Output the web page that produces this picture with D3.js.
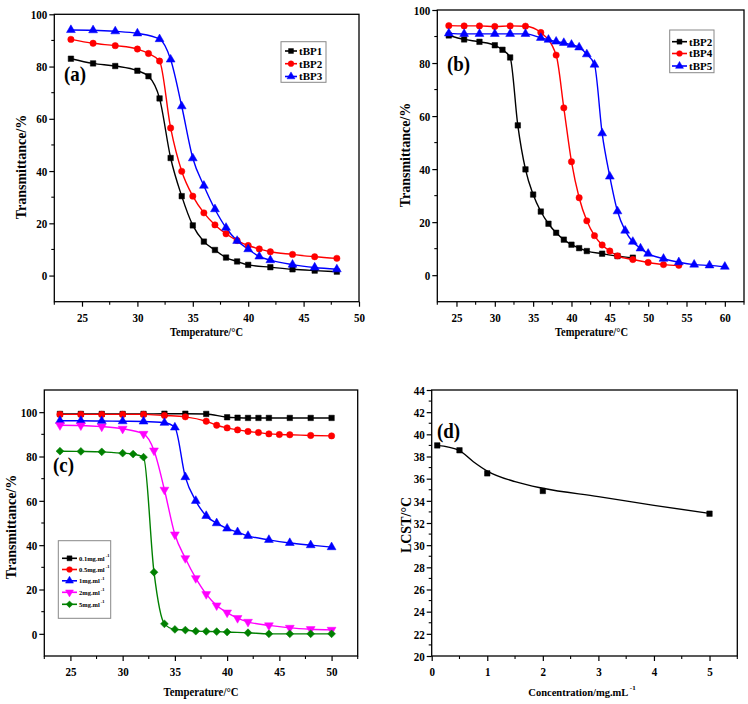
<!DOCTYPE html>
<html><head><meta charset="utf-8">
<script src="https://cdn.jsdelivr.net/npm/d3@7"></script>
<style>
body{margin:0;background:#fff}
text{font-family:"Liberation Serif","Times New Roman",serif;font-weight:bold;fill:#000}
</style>
</head><body><svg id="chart" width="748" height="704"></svg>
<script>
// ---------- data ----------
// panel (a)
const tempA1 = [24,26,28,30,31,32,33,34,35,36,37,38,39,40,42,44,46,48];
const tBP1   = [83,81.2,80.2,78.4,76.3,67.8,45,30.4,19.2,13,9.8,6.9,5.4,4.1,3.2,2.4,1.9,1.5];
const tempA2 = [24,26,28,30,31,32,33,34,35,36,37,38,39,40,41,42,44,46,48];
const tBP2   = [90.4,88.9,88,86.7,85,82.1,56.5,39.9,30.4,24,19.4,16,13.4,11.5,10.2,9.1,8.1,7.2,6.6];
const tempA3 = [24,26,28,30,32,33,34,35,36,37,38,39,40,41,42,44,46,48];
const tBP3   = [94,93.9,93.5,92.7,90.5,82.7,64.8,44.9,34.4,25.4,18.3,13.3,10.1,7.3,5.9,4.2,3.1,2.4];
// panel (b)
const tempB4 = [24,26,28,30,32,34,36,38,39,40,41,42,43,44,45,46,48,50,52,54];
const tBP4   = [94.1,94,94,93.8,94,93.9,91.5,83,63.1,42.8,29.2,20.5,14.9,11.4,9.1,7.3,5.9,4.8,4,3.7];
const tempB5 = [24,26,28,30,32,34,36,37,38,39,40,41,42,43,44,45,46,47,48,49,50,52,54,56,58,60];
const tBP5   = [91.2,91,91,91,91,91,89.5,88.8,88.1,87.6,86.9,85.9,83.3,79.4,53.5,37.2,24.1,16.8,12.6,10.1,8.1,6.2,4.9,4,3.7,3.2];
// panel (c)
const tempC01 = [24,26,28,30,32,34,36,38,40,41,42,43,44,46,48,50];
const c01     = [99.2,99.2,99.2,99.2,99.2,99.3,99.3,99.2,97.7,97.5,97.4,97.4,97.4,97.4,97.4,97.4];
const tempC05 = [24,26,28,30,32,34,36,38,39,40,41,42,43,44,45,46,48,50];
const c05     = [99,99,99,99,99,98.5,97.9,95.9,94.1,92.9,92,91.3,90.8,90.2,89.9,89.8,89.5,89.3];
const tempC1  = [24,26,28,30,32,34,35,36,37,38,39,40,41,42,44,46,48,50];
const c1      = [96.1,96.1,96,95.9,95.8,95.2,93.1,70.7,60,53.2,49.9,47.5,45.9,44.2,42.4,41,40,39.1];
const tempC2  = [24,26,28,30,32,33,34,35,36,37,38,39,40,41,42,44,46,48,50];
const c2      = [94.1,94,93.5,92.5,90.2,82.7,65,44.8,34.1,25.1,17.9,12.8,9.6,7.1,5.4,3.8,2.7,2.1,1.8];
const tempC5  = [24,26,28,30,31,32,33,34,35,36,37,38,39,40,42,44,46,48,50];
const c5      = [82.4,82.3,82.1,81.5,81.1,79.7,27.8,4.5,2,1.7,1.2,1.1,1,0.8,0.5,0,0,0,0];
// panel (d)
const conc    = [0.1,0.5,1,2,5];
const lcst    = [39.0,38.56,36.48,34.89,32.84];
const concFit = [0.1,0.3,0.5,0.75,1,1.5,2,3,4,5];
const lcstFit = [39.0,38.85,38.53,37.53,36.69,35.73,35.13,34.38,33.59,32.87];
// ticks / names
const tempTicksA = [25,30,35,40,45,50];
const tempTicksB = [25,30,35,40,45,50,55,60];
const transTicks = [0,20,40,60,80,100];
const concTicks  = [0,1,2,3,4,5];
const lcstTicks  = [20,22,24,26,28,30,32,34,36,38,40,42,44];
const namesA = ['tBP1','tBP2','tBP3'];
const namesB = ['tBP2','tBP4','tBP5'];
const namesC = ['0.1mg.ml','0.5mg.ml','1mg.ml','2mg.ml','5mg.ml'];

// ---------- drawing ----------
const svg = d3.select('#chart');
const symPath = (type, size) => {
  if (type === 'square' || type === 'diamond') return d3.symbol(d3.symbolSquare, size)();
  if (type === 'circle') return d3.symbol(d3.symbolCircle, size)();
  return d3.symbol(d3.symbolTriangle, size)();
};
const symRot = t => t === 'diamond' ? 45 : (t === 'tridown' ? 180 : 0);
const symSize = {square:30, circle:32, triangle:34, tridown:34, diamond:28};

function squish(sel, f) {
  sel.each(function(){
    const w = this.getComputedTextLength();
    d3.select(this).attr('textLength', w*f).attr('lengthAdjust','spacingAndGlyphs');
  });
}

function drawMarker(g, type, cx, cy, color, scale) {
  g.append('path').attr('d', symPath(type, symSize[type]*(scale||1)))
    .attr('transform', `translate(${cx},${cy}) rotate(${symRot(type)})`)
    .attr('fill', color).attr('stroke', color).attr('stroke-width', 0.5);
}

function drawPanel(p) {
  const g = svg.append('g');
  const x = d3.scaleLinear().domain(p.xDom).range([p.left, p.right]);
  const y = d3.scaleLinear().domain(p.yDom).range([p.bottom, p.top]);

  const line = d3.line().x(d => x(d[0])).y(d => y(d[1])).curve(d3.curveMonotoneX);
  p.series.forEach(s => {
    const lx = s.fx || s.x, ly = s.fy || s.y;
    const pts = lx.map((v,i) => [v, ly[i]]);
    g.append('path').attr('d', line(pts)).attr('fill','none')
      .attr('stroke', s.color).attr('stroke-width', 1.4);
  });
  p.series.forEach(s => {
    s.x.forEach((v,i) => drawMarker(g, s.sym, x(v), y(s.y[i]), s.color, s.scale));
  });

  g.append('rect').attr('x', p.left).attr('y', p.top)
    .attr('width', p.right - p.left).attr('height', p.bottom - p.top)
    .attr('fill','none').attr('stroke','#000').attr('stroke-width',1.3);

  const fmt = d3.format('d');
  const gx = g.append('g').attr('transform', `translate(0,${p.bottom})`)
    .call(d3.axisBottom(x).tickValues(p.xTicks).tickSize(5).tickPadding(6).tickFormat(fmt));
  gx.select('.domain').remove();
  gx.attr('font-size', 13).attr('font-family', null);
  gx.selectAll('line').attr('stroke-width', 1.2);
  squish(gx.selectAll('text'), 0.85);
  p.xMinor.forEach(v => g.append('line').attr('x1', x(v)).attr('x2', x(v))
    .attr('y1', p.bottom).attr('y2', p.bottom + 3).attr('stroke','#000').attr('stroke-width',1.1));

  const gy = g.append('g').attr('transform', `translate(${p.left},0)`)
    .call(d3.axisLeft(y).tickValues(p.yTicks).tickSize(5).tickPadding(2).tickFormat(fmt));
  gy.select('.domain').remove();
  gy.attr('font-size', 13).attr('font-family', null);
  gy.selectAll('line').attr('stroke-width', 1.2);
  squish(gy.selectAll('text'), 0.85);
  p.yMinor.forEach(v => g.append('line').attr('y1', y(v)).attr('y2', y(v))
    .attr('x1', p.left).attr('x2', p.left - 3).attr('stroke','#000').attr('stroke-width',1.1));

  if (p.xTitle.sup) {
    // main text + superscript, natural widths (no textLength)
    const t = g.append('text').attr('y', p.xTitle.y).attr('font-size', p.xTitle.fs).text(p.xTitle.t);
    const w = t.node().getComputedTextLength();
    const s = g.append('text').attr('y', p.xTitle.y - 6).attr('font-size', 7).text(p.xTitle.sup);
    const ws = s.node().getComputedTextLength();
    const x0 = p.xTitle.x - (w + 1.5 + ws)/2;
    t.attr('x', x0);
    s.attr('x', x0 + w + 1.5);
  } else {
    g.append('text').attr('x', p.xTitle.x).attr('y', p.xTitle.y)
      .attr('text-anchor','middle').attr('font-size', 13).text(p.xTitle.t)
      .attr('textLength', p.xTitle.len).attr('lengthAdjust','spacingAndGlyphs');
  }

  g.append('text').attr('transform', `translate(${p.yTitle.x},${p.yTitle.y}) rotate(-90)`)
    .attr('text-anchor','middle').attr('font-size', 14).text(p.yTitle.t);

  const pl = g.append('text').attr('x', p.label.x).attr('y', p.label.y)
    .attr('font-size', 21).text(p.label.t);
  squish(pl, 0.9);

  if (p.legend) {
    const L = p.legend;
    g.append('rect').attr('x', L.x0).attr('y', L.y0).attr('width', L.x1 - L.x0).attr('height', L.y1 - L.y0)
      .attr('fill','#fff').attr('stroke','#888').attr('stroke-width',1);
    p.series.forEach((s,i) => {
      const yy = L.rows[i];
      g.append('line').attr('x1', L.lx0).attr('x2', L.lx1).attr('y1', yy).attr('y2', yy)
        .attr('stroke', s.color).attr('stroke-width', 1.6);
      drawMarker(g, s.sym, (L.lx0 + L.lx1)/2, yy, s.color, L.msc);
      const t = g.append('text').attr('x', L.tx).attr('y', yy + L.fs*0.35)
        .attr('font-size', L.fs).text(L.names[i]);
      if (L.sup) {
        const w = t.node().getComputedTextLength();
        g.append('text').attr('x', L.tx + w + 1).attr('y', yy - 1.2)
          .attr('font-size', 4.5).text(L.sup);
      }
    });
  }
}

const tempTitle = 'Temperature/\u00B0C';

drawPanel({
  left:54.3, right:359, top:14.3, bottom:301.7,
  xDom:[22.5,50], yDom:[-10,100],
  xTicks:tempTicksA, xMinor:d3.range(22.5,50,5),
  yTicks:transTicks, yMinor:[10,30,50,70,90],
  series:[
    {x:tempA1, y:tBP1, color:'#000000', sym:'square'},
    {x:tempA2, y:tBP2, color:'#ff0000', sym:'circle'},
    {x:tempA3, y:tBP3, color:'#0000ff', sym:'triangle'}
  ],
  label:{t:'(a)', x:64, y:81},
  xTitle:{t:tempTitle, x:206.5, y:336, len:73},
  yTitle:{t:'Transmittance/%', x:25.5, y:167},
  legend:{x0:281, y0:41.7, x1:326, y1:82.3, rows:[51,63.7,76.5], lx0:285, lx1:297, tx:299, fs:11, names:namesA, msc:0.8}
});

drawPanel({
  left:437.3, right:744, top:10, bottom:301.7,
  xDom:[22.5,62.5], yDom:[-10,100],
  xTicks:tempTicksB, xMinor:d3.range(22.5,63,5),
  yTicks:transTicks, yMinor:[10,30,50,70,90],
  series:[
    {x:tempA2, y:tBP2, color:'#000000', sym:'square'},
    {x:tempB4, y:tBP4, color:'#ff0000', sym:'circle'},
    {x:tempB5, y:tBP5, color:'#0000ff', sym:'triangle'}
  ],
  label:{t:'(b)', x:447, y:71},
  xTitle:{t:tempTitle, x:591.5, y:336, len:73},
  yTitle:{t:'Transmittance/%', x:409.5, y:155},
  legend:{x0:669.7, y0:30, x1:714, y1:72.7, rows:[41.7,53.5,66], lx0:672, lx1:687, tx:689, fs:11, names:namesB, msc:0.8}
});

drawPanel({
  left:44.3, right:357.7, top:390, bottom:656,
  xDom:[22.5,52.5], yDom:[-10,110],
  xTicks:tempTicksA, xMinor:d3.range(22.5,53,5),
  yTicks:transTicks, yMinor:[10,30,50,70,90],
  series:[
    {x:tempC01, y:c01, color:'#000000', sym:'square'},
    {x:tempC05, y:c05, color:'#ff0000', sym:'circle'},
    {x:tempC1,  y:c1,  color:'#0000ff', sym:'triangle'},
    {x:tempC2,  y:c2,  color:'#ff00ff', sym:'tridown'},
    {x:tempC5,  y:c5,  color:'#008000', sym:'diamond', scale:1.1}
  ],
  label:{t:'(c)', x:53, y:472},
  xTitle:{t:tempTitle, x:201, y:696, len:75},
  yTitle:{t:'Transmittance/%', x:15.5, y:527},
  legend:{x0:58.3, y0:540.7, x1:110.7, y1:618.3, rows:[558.3,569.5,580.8,592.3,604.3], lx0:62, lx1:77, tx:79, fs:6.5, sup:'-1', names:namesC, msc:0.8}
});

drawPanel({
  left:431.7, right:737.3, top:390, bottom:656,
  xDom:[0,5.5], yDom:[20,44],
  xTicks:concTicks, xMinor:d3.range(0.5,5.6,1),
  yTicks:lcstTicks, yMinor:d3.range(21,44,2),
  series:[
    {x:conc, y:lcst, fx:concFit, fy:lcstFit, color:'#000000', sym:'square'}
  ],
  label:{t:'(d)', x:437, y:438},
  xTitle:{t:'Concentration/mg.mL', sup:'-1', x:582, y:696, fs:10.5},
  yTitle:{t:'LCST/\u00B0C', x:410.5, y:525}
});
</script></body></html>
